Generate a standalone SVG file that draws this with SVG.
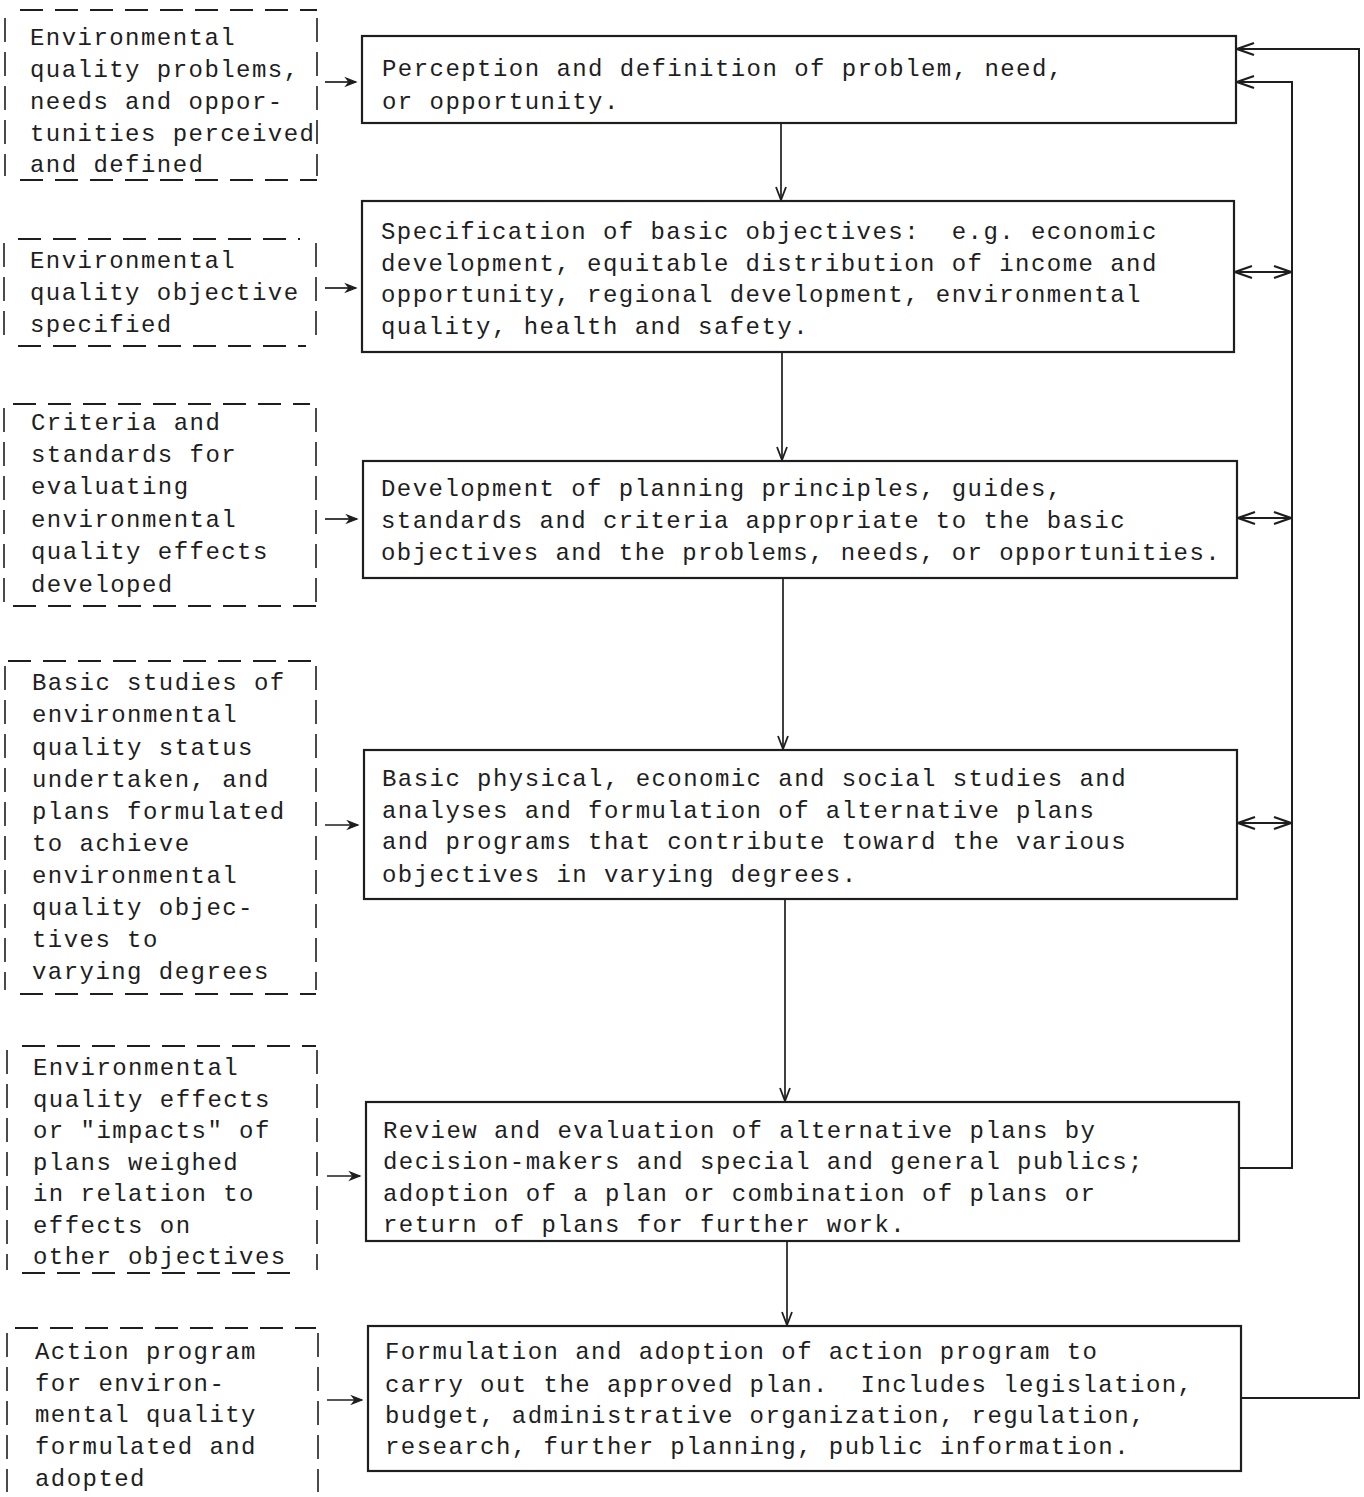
<svg xmlns="http://www.w3.org/2000/svg" width="1364" height="1497" viewBox="0 0 1364 1497">
<style>
text{font-family:"Liberation Mono","DejaVu Sans Mono",monospace;font-size:24px;letter-spacing:1.45px;fill:#1e1e1e;white-space:pre}
.box{fill:none;stroke:#1e1e1e;stroke-width:2.2}
.dh{fill:none;stroke:#1e1e1e;stroke-width:2;stroke-dasharray:23 12}
.dv{fill:none;stroke:#1e1e1e;stroke-width:1.6;stroke-dasharray:24 10}
.c{fill:none;stroke:#1e1e1e;stroke-width:1.7}
.mk{fill:none;stroke:#1e1e1e;stroke-width:1.8;stroke-linejoin:miter}
</style>
<defs>
<marker id="down" markerUnits="userSpaceOnUse" viewBox="-16 -8 18 16" refX="0" refY="0" markerWidth="18" markerHeight="16" orient="auto"><path class="mk" d="M-13,-5 L0,0 L-13,5"/></marker>
<marker id="vee" markerUnits="userSpaceOnUse" viewBox="-20 -8 22 16" refX="0" refY="0" markerWidth="22" markerHeight="16" orient="auto-start-reverse"><path class="mk" d="M-17,-6 L0,0 L-17,6" style="stroke-width:2.2"/></marker>
<marker id="small" markerUnits="userSpaceOnUse" viewBox="-12 -6 14 12" refX="0" refY="0" markerWidth="14" markerHeight="12" orient="auto"><path d="M-10,-4 L0,0 L-10,4 L-7,0 Z" fill="#1e1e1e" stroke="#1e1e1e" stroke-width="1.2"/></marker>
</defs>
<rect width="1364" height="1497" fill="#ffffff"/>

<g id="d1">
<path class="dh" d="M20,10 H317 M20,180 H317"/>
<path class="dv" d="M5,18 V176 M317,18 V176"/>
<text><tspan x="30" y="45">Environmental</tspan><tspan x="30" y="77">quality problems,</tspan><tspan x="30" y="109">needs and oppor-</tspan><tspan x="30" y="141">tunities perceived</tspan><tspan x="30" y="172">and defined</tspan></text>
</g>
<g id="d2">
<path class="dh" d="M18,239 H300 M18,346 H306"/>
<path class="dv" d="M4,243 V340 M316,243 V340"/>
<text><tspan x="30" y="268">Environmental</tspan><tspan x="30" y="300">quality objective</tspan><tspan x="30" y="332">specified</tspan></text>
</g>
<g id="d3">
<path class="dh" d="M13,404 H310 M13,606 H316"/>
<path class="dv" d="M4,408 V602 M316,408 V602"/>
<text><tspan x="31" y="430">Criteria and</tspan><tspan x="31" y="462">standards for</tspan><tspan x="31" y="494">evaluating</tspan><tspan x="31" y="527">environmental</tspan><tspan x="31" y="559">quality effects</tspan><tspan x="31" y="592">developed</tspan></text>
</g>
<g id="d4">
<path class="dh" d="M8,661 H316 M20,994 H316"/>
<path class="dv" d="M5,666 V990 M316,666 V990"/>
<text><tspan x="32" y="690">Basic studies of</tspan><tspan x="32" y="722">environmental</tspan><tspan x="32" y="755">quality status</tspan><tspan x="32" y="787">undertaken, and</tspan><tspan x="32" y="819">plans formulated</tspan><tspan x="32" y="851">to achieve</tspan><tspan x="32" y="883">environmental</tspan><tspan x="32" y="915">quality objec-</tspan><tspan x="32" y="947">tives to</tspan><tspan x="32" y="979">varying degrees</tspan></text>
</g>
<g id="d5">
<path class="dh" d="M22,1046 H316 M22,1273 H300"/>
<path class="dv" d="M7,1050 V1270 M317,1050 V1270"/>
<text><tspan x="33" y="1075">Environmental</tspan><tspan x="33" y="1107">quality effects</tspan><tspan x="33" y="1138">or "impacts" of</tspan><tspan x="33" y="1170">plans weighed</tspan><tspan x="33" y="1201">in relation to</tspan><tspan x="33" y="1233">effects on</tspan><tspan x="33" y="1264">other objectives</tspan></text>
</g>
<g id="d6">
<path class="dh" d="M15,1328 H316 M15,1498 H316"/>
<path class="dv" d="M7,1333 V1492 M318,1333 V1492"/>
<text><tspan x="35" y="1359">Action program</tspan><tspan x="35" y="1391">for environ-</tspan><tspan x="35" y="1422">mental quality</tspan><tspan x="35" y="1454">formulated and</tspan><tspan x="35" y="1486">adopted</tspan></text>
</g>

<g id="b1">
<rect class="box" x="362" y="36" width="874" height="87"/>
<text><tspan x="382" y="76">Perception and definition of problem, need,</tspan><tspan x="382" y="109">or opportunity.</tspan></text>
</g>
<g id="b2">
<rect class="box" x="362" y="201" width="872" height="151"/>
<text><tspan x="381" y="239">Specification of basic objectives:  e.g. economic</tspan><tspan x="381" y="271">development, equitable distribution of income and</tspan><tspan x="381" y="302">opportunity, regional development, environmental</tspan><tspan x="381" y="334">quality, health and safety.</tspan></text>
</g>
<g id="b3">
<rect class="box" x="363" y="461" width="874" height="117"/>
<text><tspan x="381" y="496">Development of planning principles, guides,</tspan><tspan x="381" y="528">standards and criteria appropriate to the basic</tspan><tspan x="381" y="560">objectives and the problems, needs, or opportunities.</tspan></text>
</g>
<g id="b4">
<rect class="box" x="364" y="750" width="873" height="149"/>
<text><tspan x="382" y="786">Basic physical, economic and social studies and</tspan><tspan x="382" y="818">analyses and formulation of alternative plans</tspan><tspan x="382" y="849">and programs that contribute toward the various</tspan><tspan x="382" y="882">objectives in varying degrees.</tspan></text>
</g>
<g id="b5">
<rect class="box" x="366" y="1102" width="873" height="139"/>
<text><tspan x="383" y="1138">Review and evaluation of alternative plans by</tspan><tspan x="383" y="1169">decision-makers and special and general publics;</tspan><tspan x="383" y="1201">adoption of a plan or combination of plans or</tspan><tspan x="383" y="1232">return of plans for further work.</tspan></text>
</g>
<g id="b6">
<rect class="box" x="368" y="1326" width="873" height="145"/>
<text><tspan x="385" y="1359">Formulation and adoption of action program to</tspan><tspan x="385" y="1392">carry out the approved plan.  Includes legislation,</tspan><tspan x="385" y="1423">budget, administrative organization, regulation,</tspan><tspan x="385" y="1454">research, further planning, public information.</tspan></text>
</g>

<g id="connectors">
<path class="c" d="M781,123 V200" marker-end="url(#down)"/>
<path class="c" d="M782,352 V460" marker-end="url(#down)"/>
<path class="c" d="M783,578 V749" marker-end="url(#down)"/>
<path class="c" d="M785,899 V1101" marker-end="url(#down)"/>
<path class="c" d="M787,1241 V1325" marker-end="url(#down)"/>

<path class="c" d="M325,82 H356" marker-end="url(#small)"/>
<path class="c" d="M325,288 H356" marker-end="url(#small)"/>
<path class="c" d="M325,519 H357" marker-end="url(#small)"/>
<path class="c" d="M325,825 H358" marker-end="url(#small)"/>
<path class="c" d="M327,1176 H360" marker-end="url(#small)"/>
<path class="c" d="M327,1400 H362" marker-end="url(#small)"/>

<path class="c" d="M1241,1398 H1359 V49 H1237" marker-end="url(#vee)" style="stroke-width:2"/>
<path class="c" d="M1239,1168 H1292 V82 H1237" marker-end="url(#vee)" style="stroke-width:2"/>
<path class="c" d="M1235,272 H1291" marker-start="url(#vee)" marker-end="url(#vee)" style="stroke-width:2"/>
<path class="c" d="M1238,518 H1291" marker-start="url(#vee)" marker-end="url(#vee)" style="stroke-width:2"/>
<path class="c" d="M1238,823 H1291" marker-start="url(#vee)" marker-end="url(#vee)" style="stroke-width:2"/>
</g>
</svg>
